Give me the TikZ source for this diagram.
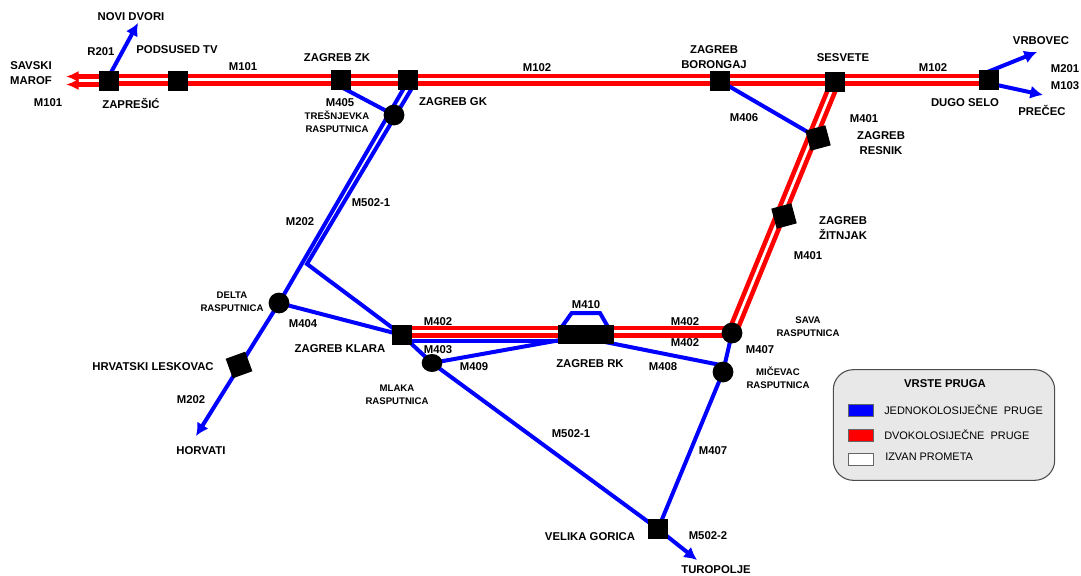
\documentclass[tikz,border=0pt]{standalone}
\usepackage{fontspec}
\setmainfont{Liberation Sans}
\usetikzlibrary{backgrounds,arrows.meta}

\begin{document}
\begin{tikzpicture}[x=0.75pt,y=-0.75pt]
\tikzstyle{station}=[rectangle, fill=black, inner sep=0pt, minimum size=15.6pt]
\tikzstyle{junction}=[circle, fill=black, inner sep=0pt, minimum size=15.6pt]
\tikzstyle{lab}=[inner sep=0pt, align=center, font=\fontsize{8.5}{11}\selectfont\bfseries]
\tikzstyle{smalllab}=[inner sep=0pt, align=center, font=\fontsize{7.2}{9.6}\selectfont\bfseries]
\tikzstyle{keytext}=[inner sep=0pt, anchor=west, font=\fontsize{8.2}{10}\selectfont]
\tikzstyle{single}=[draw=blue, line width=3pt]
\tikzstyle{twin}=[draw=red, line width=3.5pt, double=white, double distance=2pt]
\tikzstyle{connect}=[-{Latex[length=9.5pt,width=10pt]}, draw=blue, line width=3pt]
\tikzstyle{redconnect}=[-{Latex[length=9.5pt,width=8.5pt]}, draw=red, line width=3.5pt]
\tikzstyle{swatch}=[rectangle, draw=black!60, inner sep=0pt, minimum width=18.5pt, minimum height=9pt]
\useasboundingbox (0,0) rectangle (1081,575);
  % stations
  \node[station] (zapresic) at (109,81) {};
  \node[station] (podsused) at (178,81) {};
  \node[station] (zagrebzk) at (341,80) {};
  \node[station] (zagrebgk) at (408,80) {};
  \node[station] (borongaj) at (720,81) {};
  \node[station] (sesvete) at (835,82) {};
  \node[station] (dugoselo) at (989,80) {};
  \node[station, rotate=15] (resnik) at (818,138) {};
  \node[station, rotate=15] (zitnjak) at (784,216) {};
  \node[station, rotate=20] (leskovac) at (239,365) {};
  \node[station] (klara) at (402,335) {};
  \node[station, minimum width=42.5pt, minimum height=14.5pt] (zagrebrk) at (586,334.5) {};
  \node[station] (velika) at (658,529) {};
  % junctions
  \node[junction] (tresnjevka) at (394,115) {};
  \node[junction] (delta) at (279,303) {};
  \node[junction] (sava) at (732,333) {};
  \node[junction] (micevac) at (723,372) {};
  \node[junction, minimum size=13.5pt, xscale=1.15] (mlaka) at (432,363) {};
  % free ends
  \coordinate (mainwest) at (109,79.5);
  \coordinate (maineast) at (989,79.5);
  \coordinate (novidvoritip) at (138,23);
  \coordinate (zapup) at (108,78);
  \coordinate (zaptop) at (100,76.5);
  \coordinate (zapbot) at (100,84.5);
  \coordinate (maroftop) at (66,76.5);
  \coordinate (marofbot) at (66,84.5);
  \coordinate (vrbovectip) at (1037,52);
  \coordinate (dsup) at (985,73);
  \coordinate (prectip) at (1043,95);
  \coordinate (dsdown) at (990,83.5);
  \coordinate (horvatitip) at (196,436);
  \coordinate (turopoljetip) at (697,560);
  \coordinate (gkleft) at (404,88);
  \coordinate (gkright) at (412,88);
  \coordinate (bend) at (307,264);
  \coordinate (zklow) at (343,88);
  \coordinate (klarared) at (402,331.5);
  \coordinate (savared) at (732,331.5);
  \coordinate (klarablue) at (402,341);
  \coordinate (rkblue) at (586,341);
  \coordinate (rkleft) at (566,339);
  \coordinate (rkright) at (605,342);
  \coordinate (micevacin) at (723,365.5);
  \coordinate (arcA) at (561.7,327);
  \coordinate (arcB) at (571.7,313);
  \coordinate (arcC) at (600,313);
  \coordinate (arcD) at (608,327);
  % lines
  \begin{scope}[on background layer]
    \path (mainwest) edge [twin] (maineast);
    \path (sava.center) edge [twin] (sesvete.center);
    \path (klarared) edge [twin] (savared);
    \path (zaptop) edge [redconnect] (maroftop);
    \path (zapbot) edge [redconnect] (marofbot);
    \path (zapup) edge [connect] (novidvoritip);
    \path (dsup) edge [connect] (vrbovectip);
    \path (dsdown) edge [connect] (prectip);
    \path (zklow) edge [single] (tresnjevka.center);
    \path (borongaj.center) edge [single] (resnik.center);
    \path (gkleft) edge [single] (delta.center);
    \path (delta.center) edge [connect] (horvatitip);
    \draw[single, line join=miter] (gkright) -- (bend) -- (klara.center);
    \path (delta.center) edge [single] (klara.center);
    \path (klarablue) edge [single] (rkblue);
    \path (klara.center) edge [single] (mlaka.center);
    \path (mlaka.center) edge [single] (rkleft);
    \path (mlaka.center) edge [single] (velika.center);
    \path (rkright) edge [single] (micevacin);
    \draw[single] (arcA) -- (arcB) -- (arcC) -- (arcD);
    \path (sava.center) edge [single] (micevac.center);
    \path (micevac.center) edge [single] (velika.center);
    \path (velika.center) edge [connect] (turopoljetip);
  \end{scope}
  % labels
  \node[lab] (novidvori) at (131,17) {NOVI DVORI};
  \node[lab] (podsusedlab) at (177,50) {PODSUSED TV};
  \node[lab] (r201) at (101,52) {R201};
  \node[lab] (savski) at (31,73) {SAVSKI\\MAROF};
  \node[lab] (m101a) at (48,103) {M101};
  \node[lab] (zapresiclab) at (131,103) {ZAPREŠIĆ};
  \node[lab] (m101b) at (243,67) {M101};
  \node[lab] (zklab) at (337,58) {ZAGREB ZK};
  \node[lab] (m405) at (340,103) {M405};
  \node[smalllab] (tresnjevkalab) at (337,122) {TREŠNJEVKA\\RASPUTNICA};
  \node[lab] (gklab) at (453,102) {ZAGREB GK};
  \node[lab] (m102a) at (537,68) {M102};
  \node[lab] (boronglab) at (714,57) {ZAGREB\\BORONGAJ};
  \node[lab] (sesvetelab) at (843,58) {SESVETE};
  \node[lab] (m102b) at (933,68) {M102};
  \node[lab] (vrbovec) at (1041,41) {VRBOVEC};
  \node[lab] (m201) at (1065,69) {M201};
  \node[lab] (m103) at (1065,86) {M103};
  \node[lab] (dugolab) at (965,103) {DUGO SELO};
  \node[lab] (precec) at (1042,110) {PREČEC};
  \node[lab] (m406) at (744,118) {M406};
  \node[lab] (m401a) at (864,119) {M401};
  \node[lab] (resniklab) at (881,143) {ZAGREB\\RESNIK};
  \node[lab] (zitnjaklab) at (843,228) {ZAGREB\\ŽITNJAK};
  \node[lab] (m401b) at (808,256) {M401};
  \node[lab] (m202a) at (300,222) {M202};
  \node[lab] (m5021a) at (371,203) {M502-1};
  \node[smalllab] (deltalab) at (232,302) {DELTA\\RASPUTNICA};
  \node[lab] (m404) at (303,324) {M404};
  \node[smalllab] (savalab) at (808,327) {SAVA\\RASPUTNICA};
  \node[lab] (m407a) at (760,350) {M407};
  \node[lab] (m402a) at (438,322) {M402};
  \node[lab] (m402b) at (685,322) {M402};
  \node[lab] (m402c) at (685,343) {M402};
  \node[lab] (m410) at (586,305) {M410};
  \node[lab] (klaralab) at (340,349) {ZAGREB KLARA};
  \node[lab] (m403) at (438,350) {M403};
  \node[lab] (m409) at (474,367) {M409};
  \node[lab] (rklab) at (590,364) {ZAGREB RK};
  \node[lab] (m408) at (663,367) {M408};
  \node[smalllab] (micevaclab) at (778,378) {MIČEVAC\\RASPUTNICA};
  \node[smalllab] (mlakalab) at (397,395) {MLAKA\\RASPUTNICA};
  \node[lab] (leskovaclab) at (153,367) {HRVATSKI LESKOVAC};
  \node[lab] (m202b) at (191,400) {M202};
  \node[lab] (horvati) at (201,451) {HORVATI};
  \node[lab] (m5021b) at (571,434) {M502-1};
  \node[lab] (m407b) at (713,451) {M407};
  \node[lab] (velikalab) at (590,537) {VELIKA GORICA};
  \node[lab] (m5022) at (708,536) {M502-2};
  \node[lab] (turopolje) at (716,570) {TUROPOLJE};
  % legend
  \node[rectangle, draw=black!70, fill=black!9, rounded corners=15pt, line width=0.8pt, minimum width=166pt, minimum height=83pt] (legend) at (944,425) {};
  \node[lab] (legendtitle) at (945,384) {VRSTE PRUGA};
  \node[swatch, fill=blue] (keyblue) at (861,410) {};
  \node[swatch, fill=red] (keyred) at (861,435) {};
  \node[swatch, fill=white] (keywhite) at (860.5,459) {};
  \node[keytext] (keybluetext) at (884,410) {JEDNOKOLOSIJEČNE\ \ PRUGE};
  \node[keytext] (keyredtext) at (884,435) {DVOKOLOSIJEČNE\ \ PRUGE};
  \node[keytext] (keywhitetext) at (885,457) {IZVAN PROMETA};
\end{tikzpicture}
\end{document}
